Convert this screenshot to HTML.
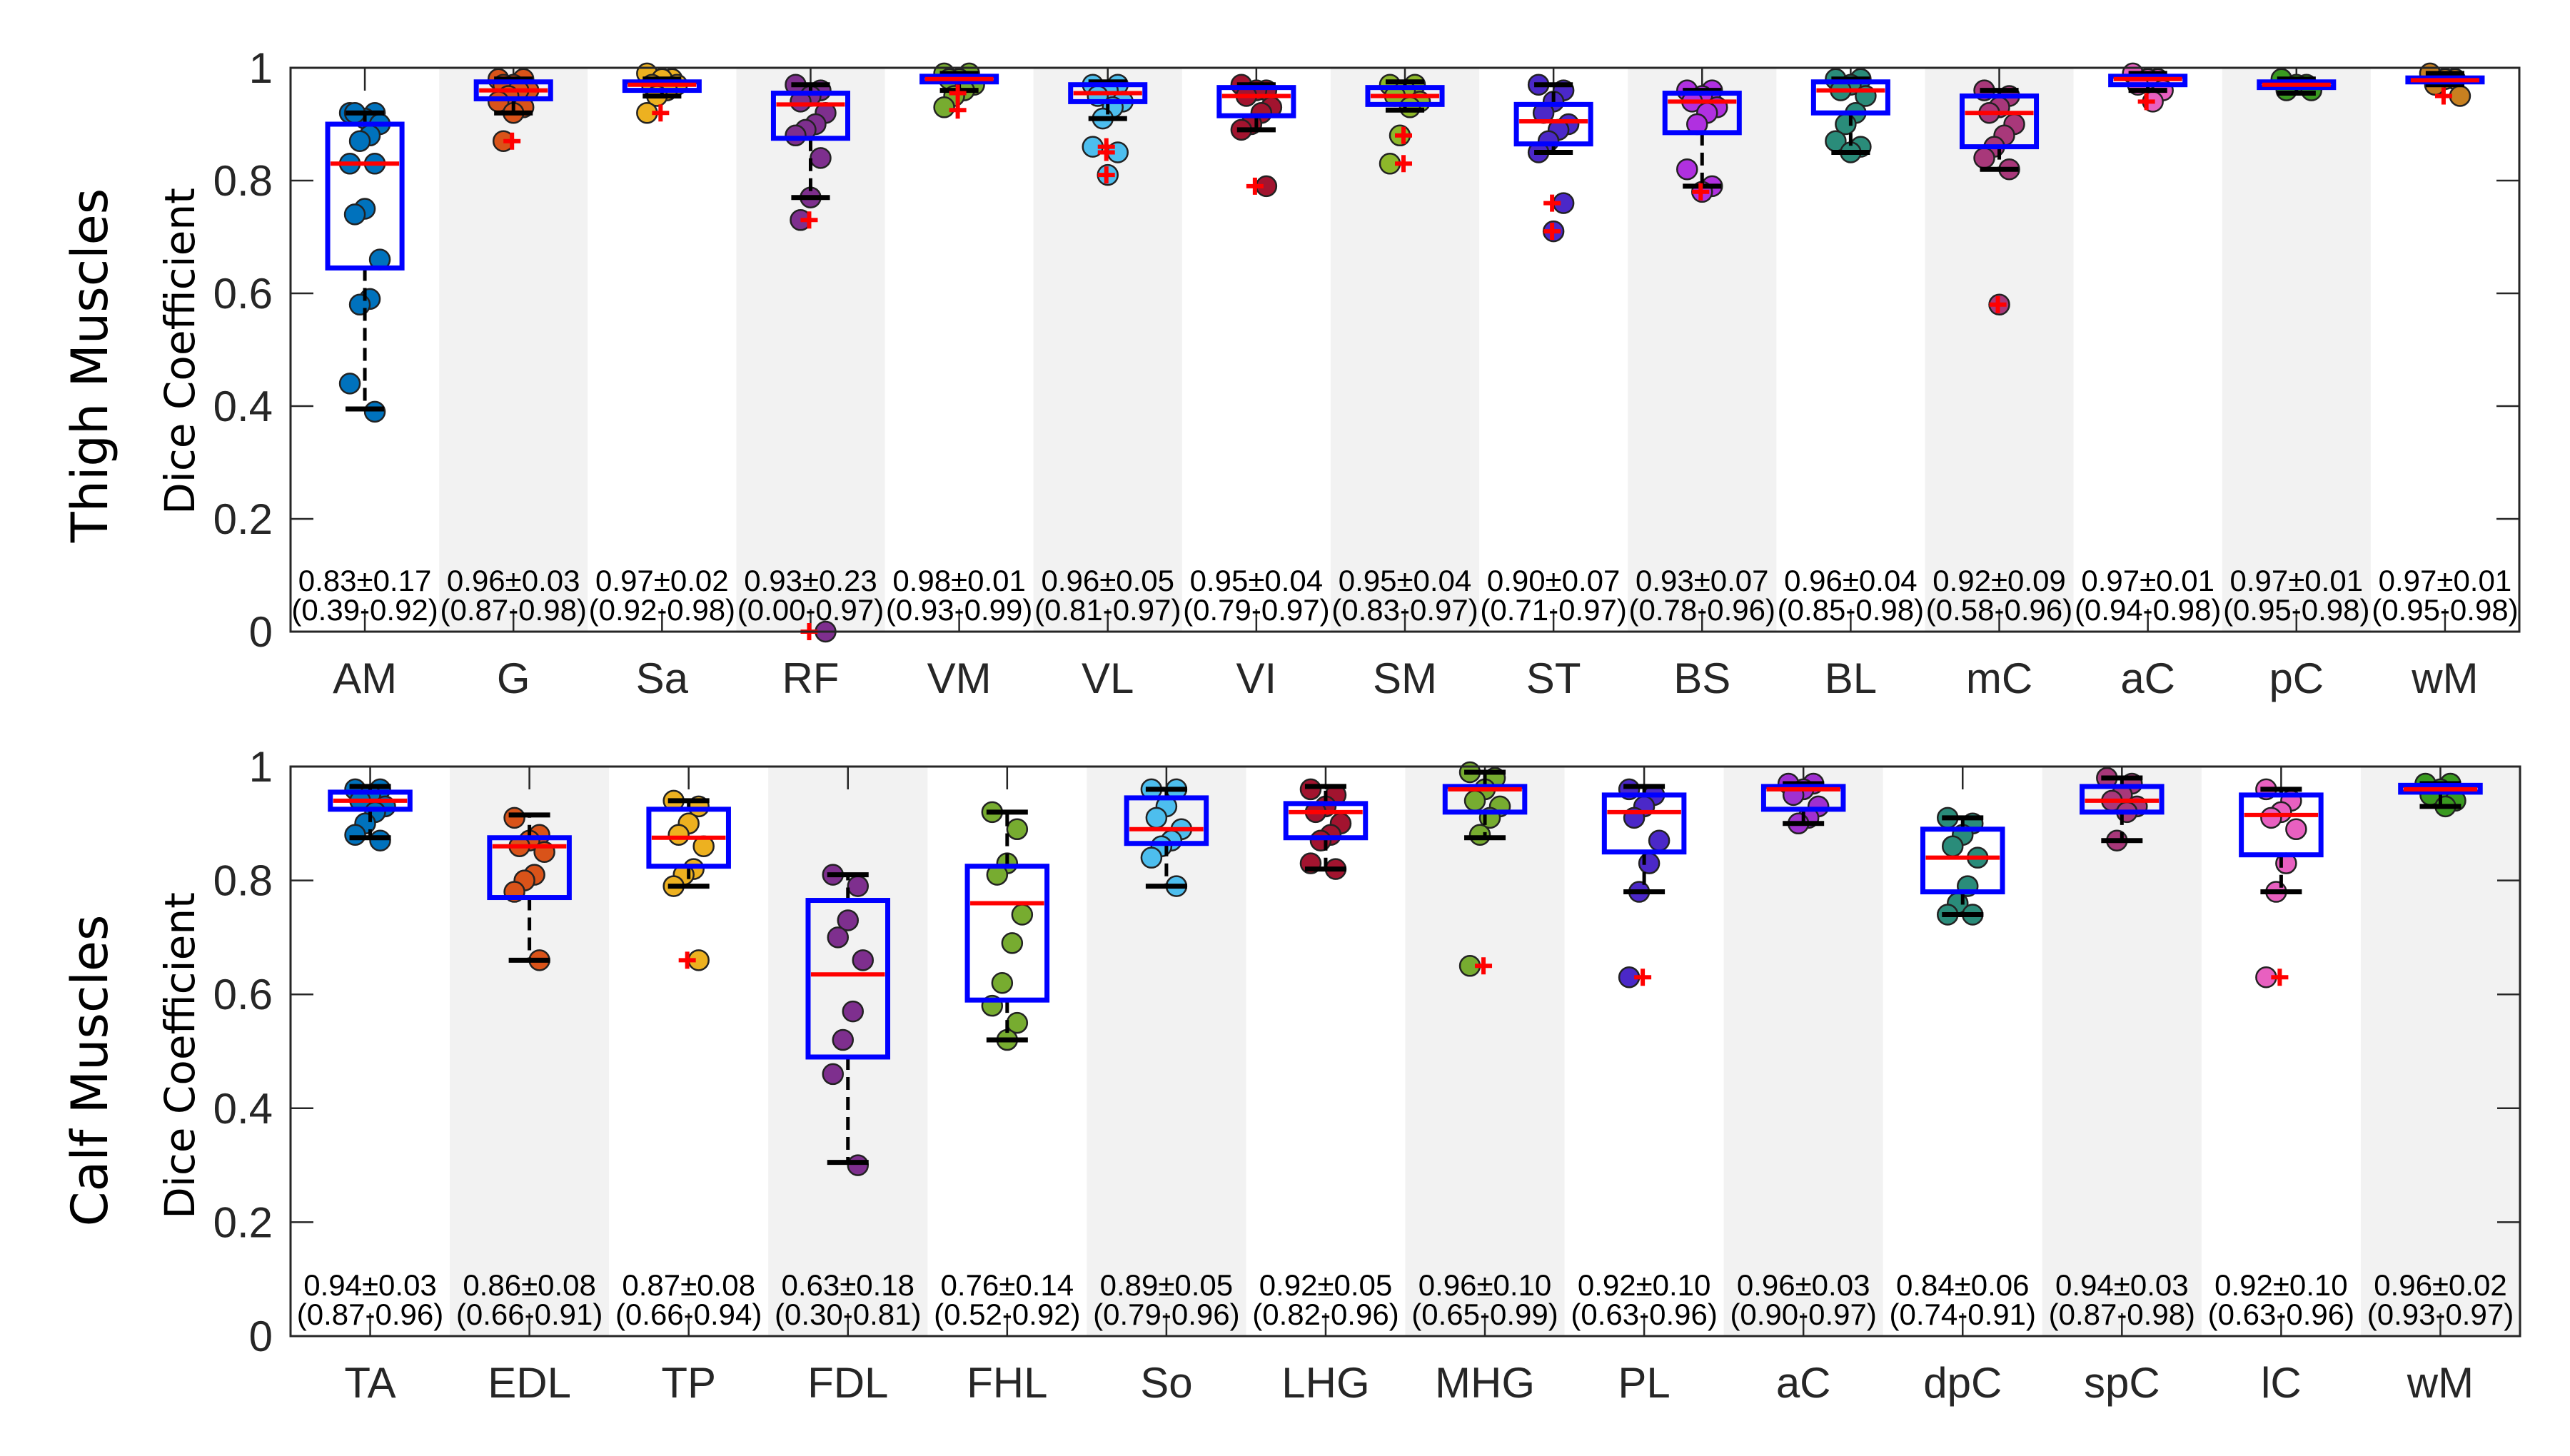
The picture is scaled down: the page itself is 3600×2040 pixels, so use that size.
<!DOCTYPE html>
<html><head><meta charset="utf-8"><style>
html,body{margin:0;padding:0;background:#fff;}
svg{display:block;}
text{font-family:"Liberation Sans",Arial,sans-serif;}
</style></head><body>
<svg id="fig" width="3600" height="2040" viewBox="0 0 3600 2040" xmlns="http://www.w3.org/2000/svg">
<rect x="0" y="0" width="3600" height="2040" fill="#fff"/>
<text x="0" y="0" transform="translate(150,512) rotate(-90)" text-anchor="middle" font-size="70" fill="#000" style="font-family:'DejaVu Sans','Liberation Sans',sans-serif">Thigh Muscles</text>
<text x="0" y="0" transform="translate(272,492) rotate(-90)" text-anchor="middle" font-size="58" fill="#000" style="font-family:'DejaVu Sans','Liberation Sans',sans-serif">Dice Coefficient</text>
<text x="0" y="0" transform="translate(150,1500) rotate(-90)" text-anchor="middle" font-size="70" fill="#000" style="font-family:'DejaVu Sans','Liberation Sans',sans-serif">Calf Muscles</text>
<text x="0" y="0" transform="translate(272,1479) rotate(-90)" text-anchor="middle" font-size="58" fill="#000" style="font-family:'DejaVu Sans','Liberation Sans',sans-serif">Dice Coefficient</text>
</svg>
<script>
// ---------- Thigh data ----------
const thighCats = ["AM","G","Sa","RF","VM","VL","VI","SM","ST","BS","BL","mC","aC","pC","wM"];
const thighQ1 = [0.645,0.945,0.96,0.875,0.975,0.94,0.915,0.935,0.865,0.885,0.92,0.86,0.97,0.965,0.975];
const thighMed = [0.83,0.96,0.97,0.935,0.98,0.955,0.95,0.95,0.905,0.94,0.96,0.92,0.98,0.97,0.978];
const thighQ3 = [0.90,0.975,0.975,0.955,0.985,0.97,0.965,0.965,0.935,0.955,0.975,0.95,0.985,0.975,0.982];
const thighLo = [0.395,0.92,0.95,0.77,0.96,0.91,0.89,0.925,0.85,0.79,0.85,0.82,0.96,0.955,0.97];
const thighHi = [0.92,0.98,0.98,0.97,0.99,0.975,0.97,0.975,0.97,0.96,0.98,0.96,0.99,0.98,0.99];
const thighOut = [[],[0.87],[0.92],[0.73,0.0],[0.955,0.925],[0.86,0.85,0.81],[0.79],[0.88,0.83],[0.76,0.71],[0.78],[],[0.58],[0.94],[],[0.95]];
const thighPts = [
 [0.92,0.92,0.91,0.92,0.90,0.88,0.87,0.83,0.83,0.75,0.74,0.66,0.59,0.58,0.44,0.39],
 [0.98,0.98,0.97,0.97,0.96,0.96,0.95,0.94,0.93,0.92,0.87],
 [0.99,0.98,0.98,0.97,0.97,0.96,0.95,0.92],
 [0.97,0.96,0.95,0.94,0.92,0.90,0.89,0.88,0.84,0.77,0.73,0.0],
 [0.99,0.99,0.98,0.98,0.97,0.96,0.95,0.93],
 [0.97,0.97,0.96,0.95,0.94,0.93,0.91,0.86,0.85,0.81],
 [0.97,0.96,0.96,0.95,0.93,0.92,0.90,0.89,0.79],
 [0.97,0.97,0.96,0.95,0.94,0.93,0.88,0.83],
 [0.97,0.96,0.94,0.92,0.90,0.89,0.87,0.85,0.76,0.71],
 [0.96,0.96,0.95,0.94,0.93,0.92,0.90,0.82,0.79,0.78],
 [0.98,0.98,0.97,0.96,0.95,0.92,0.90,0.87,0.86,0.85],
 [0.96,0.95,0.93,0.92,0.90,0.88,0.86,0.84,0.82,0.58],
 [0.99,0.98,0.98,0.97,0.96,0.94],
 [0.98,0.97,0.97,0.96,0.96],
 [0.99,0.98,0.98,0.97,0.95]
];
const thighColors = ["#0072BD","#D95319","#EDB120","#7E2F8E","#77AC30","#4DBEEE","#A2142F","#8DB82A","#4B28C8","#B030E0","#2A8C7A","#A8387A","#E860C0","#3A9A20","#C88020"];
const thighMean = ["0.83±0.17","0.96±0.03","0.97±0.02","0.93±0.23","0.98±0.01","0.96±0.05","0.95±0.04","0.95±0.04","0.90±0.07","0.93±0.07","0.96±0.04","0.92±0.09","0.97±0.01","0.97±0.01","0.97±0.01"];
const thighRange = ["(0.39-0.92)","(0.87-0.98)","(0.92-0.98)","(0.00-0.97)","(0.93-0.99)","(0.81-0.97)","(0.79-0.97)","(0.83-0.97)","(0.71-0.97)","(0.78-0.96)","(0.85-0.98)","(0.58-0.96)","(0.94-0.98)","(0.95-0.98)","(0.95-0.98)"];

// ---------- Calf data ----------
const calfCats = ["TA","EDL","TP","FDL","FHL","So","LHG","MHG","PL","aC","dpC","spC","lC","wM"];
const calfQ1 = [0.925,0.77,0.825,0.49,0.59,0.865,0.875,0.92,0.85,0.925,0.78,0.92,0.845,0.955];
const calfMed = [0.94,0.86,0.875,0.635,0.76,0.89,0.92,0.96,0.92,0.96,0.84,0.94,0.915,0.96];
const calfQ3 = [0.955,0.875,0.925,0.765,0.825,0.945,0.935,0.965,0.95,0.965,0.89,0.965,0.95,0.967];
const calfLo = [0.875,0.66,0.79,0.305,0.52,0.79,0.82,0.875,0.78,0.90,0.74,0.87,0.78,0.93];
const calfHi = [0.965,0.915,0.94,0.81,0.92,0.96,0.965,0.99,0.965,0.97,0.91,0.98,0.96,0.97];
const calfOut = [[],[],[0.66],[],[],[],[],[0.65],[0.63],[],[],[],[0.63],[]];
const calfPts = [
 [0.96,0.96,0.95,0.94,0.93,0.92,0.90,0.88,0.87],
 [0.91,0.88,0.87,0.86,0.85,0.81,0.80,0.78,0.66],
 [0.94,0.93,0.90,0.88,0.86,0.82,0.81,0.79,0.66],
 [0.81,0.79,0.73,0.70,0.66,0.57,0.52,0.46,0.30],
 [0.92,0.89,0.83,0.81,0.74,0.69,0.62,0.58,0.55,0.52],
 [0.96,0.96,0.93,0.91,0.89,0.87,0.86,0.84,0.79],
 [0.96,0.95,0.93,0.92,0.90,0.88,0.87,0.83,0.82],
 [0.99,0.98,0.96,0.94,0.93,0.91,0.88,0.65],
 [0.96,0.95,0.93,0.91,0.87,0.83,0.78,0.63],
 [0.97,0.97,0.96,0.95,0.93,0.91,0.90],
 [0.91,0.90,0.88,0.86,0.84,0.79,0.76,0.74,0.74],
 [0.98,0.97,0.95,0.94,0.93,0.92,0.87],
 [0.96,0.94,0.92,0.91,0.89,0.83,0.78,0.63],
 [0.97,0.97,0.96,0.95,0.94,0.93]
];
const calfColors = ["#0072BD","#D95319","#EDB120","#7E2F8E","#77AC30","#4DBEEE","#A2142F","#77AC30","#4B28C8","#A030D0","#2A8C7A","#A8387A","#E860C0","#3A9A20"];
const calfMean = ["0.94±0.03","0.86±0.08","0.87±0.08","0.63±0.18","0.76±0.14","0.89±0.05","0.92±0.05","0.96±0.10","0.92±0.10","0.96±0.03","0.84±0.06","0.94±0.03","0.92±0.10","0.96±0.02"];
const calfRange = ["(0.87-0.96)","(0.66-0.91)","(0.66-0.94)","(0.30-0.81)","(0.52-0.92)","(0.79-0.96)","(0.82-0.96)","(0.65-0.99)","(0.63-0.96)","(0.90-0.97)","(0.74-0.91)","(0.87-0.98)","(0.63-0.96)","(0.93-0.97)"];

const yTicks = [0,0.2,0.4,0.6,0.8,1];
const yTickLabels = ["0","0.2","0.4","0.6","0.8","1"];

const NS = "http://www.w3.org/2000/svg";
const svg = document.getElementById('fig');
function mk(tag, attrs, parent){
  const e = document.createElementNS(NS, tag);
  for (const k in attrs) e.setAttribute(k, attrs[k]);
  (parent||svg).appendChild(e);
  return e;
}

function drawPanel(prefix, L, R, T, B, cats, q1, med, q3, lo, hi, outs, pts, colors, means, ranges, shadeOdd){
  const g = mk('g', {});
  
  
  const n = cats.length;
  const bw = (R - L) / n;
  const xC = i => L + bw * (i + 0.5);
  const yS = v => B - v * (B - T);
  for (let i = 0; i < n; i++) {
    if ((i % 2 === 1) === shadeOdd) {
      const r = mk('rect', {x: L + bw*i, y: T, width: bw, height: B - T, fill: '#f2f2f2'}, g);
      
      
    }
  }
  for (let i = 0; i < n; i++) {
    mk('line', {x1: xC(i), y1: T, x2: xC(i), y2: T + 32, stroke: '#262626', 'stroke-width': 2.5}, g);
    mk('line', {x1: xC(i), y1: B, x2: xC(i), y2: B - 32, stroke: '#262626', 'stroke-width': 2.5}, g);
  }
  yTicks.forEach((v, k) => {
    mk('line', {x1: L, y1: yS(v), x2: L + 32, y2: yS(v), stroke: '#262626', 'stroke-width': 2.5}, g);
    mk('line', {x1: R, y1: yS(v), x2: R - 32, y2: yS(v), stroke: '#262626', 'stroke-width': 2.5}, g);
    const t = mk('text', {x: 382, y: yS(v) + 21, 'text-anchor': 'end', 'font-size': 60, fill: '#262626'}, g);
    t.textContent = yTickLabels[k];
    
    
  });
  for (let i = 0; i < n; i++) {
    const t1 = mk('text', {x: xC(i), y: B - 57, 'text-anchor': 'middle', 'font-size': 42, fill: '#000'}, g);
    t1.textContent = means[i];
    
    
    const t2 = mk('text', {x: xC(i), y: B - 16, 'text-anchor': 'middle', 'font-size': 42, fill: '#000'}, g);
    t2.textContent = ranges[i];
    
    
    const cl = mk('text', {x: xC(i), y: B + 86, 'text-anchor': 'middle', 'font-size': 60, fill: '#262626'}, g);
    cl.textContent = cats[i];
    
    
  }
  for (let i = 0; i < n; i++) {
    const bg = mk('g', {}, g);
    
    
    const cx = xC(i), half = bw * 0.25, cap = bw * 0.13;
    pts[i].forEach((v, j) => {
      const off = (((j * 5) % 7) - 3) * 7;
      const c = mk('circle', {cx: cx + off, cy: yS(v), r: 14, fill: colors[i], stroke: '#222', 'stroke-width': 2.5}, bg);
      
      
    });
    mk('line', {x1: cx, y1: yS(q3[i]), x2: cx, y2: yS(hi[i]), stroke: '#000', 'stroke-width': 5, 'stroke-dasharray': '18,10'}, bg);
    mk('line', {x1: cx, y1: yS(q1[i]), x2: cx, y2: yS(lo[i]), stroke: '#000', 'stroke-width': 5, 'stroke-dasharray': '18,10'}, bg);
    mk('line', {x1: cx - cap, y1: yS(hi[i]), x2: cx + cap, y2: yS(hi[i]), stroke: '#000', 'stroke-width': 7}, bg);
    mk('line', {x1: cx - cap, y1: yS(lo[i]), x2: cx + cap, y2: yS(lo[i]), stroke: '#000', 'stroke-width': 7}, bg);
    mk('rect', {x: cx - half, y: yS(q3[i]), width: 2*half, height: Math.max(yS(q1[i]) - yS(q3[i]), 1), fill: 'none', stroke: '#0000FF', 'stroke-width': 7}, bg);
    mk('line', {x1: cx - half + 4, y1: yS(med[i]), x2: cx + half - 4, y2: yS(med[i]), stroke: '#FF0000', 'stroke-width': 6}, bg);
    outs[i].forEach(v => {
      const ox = cx - 2, oy = yS(v);
      const o = mk('path', {d: `M${ox-12},${oy}H${ox+12}M${ox},${oy-12}V${oy+12}`, stroke: '#FF0000', 'stroke-width': 6, fill: 'none'}, bg);
      
      
    });
  }
  const fr = mk('rect', {x: L, y: T, width: R - L, height: B - T, fill: 'none', stroke: '#262626', 'stroke-width': 3}, g);
  
  
}

drawPanel('thigh', 407, 3529, 95, 885, thighCats, thighQ1, thighMed, thighQ3, thighLo, thighHi, thighOut, thighPts, thighColors, thighMean, thighRange, true);
drawPanel('calf', 407, 3530, 1074, 1872, calfCats, calfQ1, calfMed, calfQ3, calfLo, calfHi, calfOut, calfPts, calfColors, calfMean, calfRange, true);
</script>
</body></html>
